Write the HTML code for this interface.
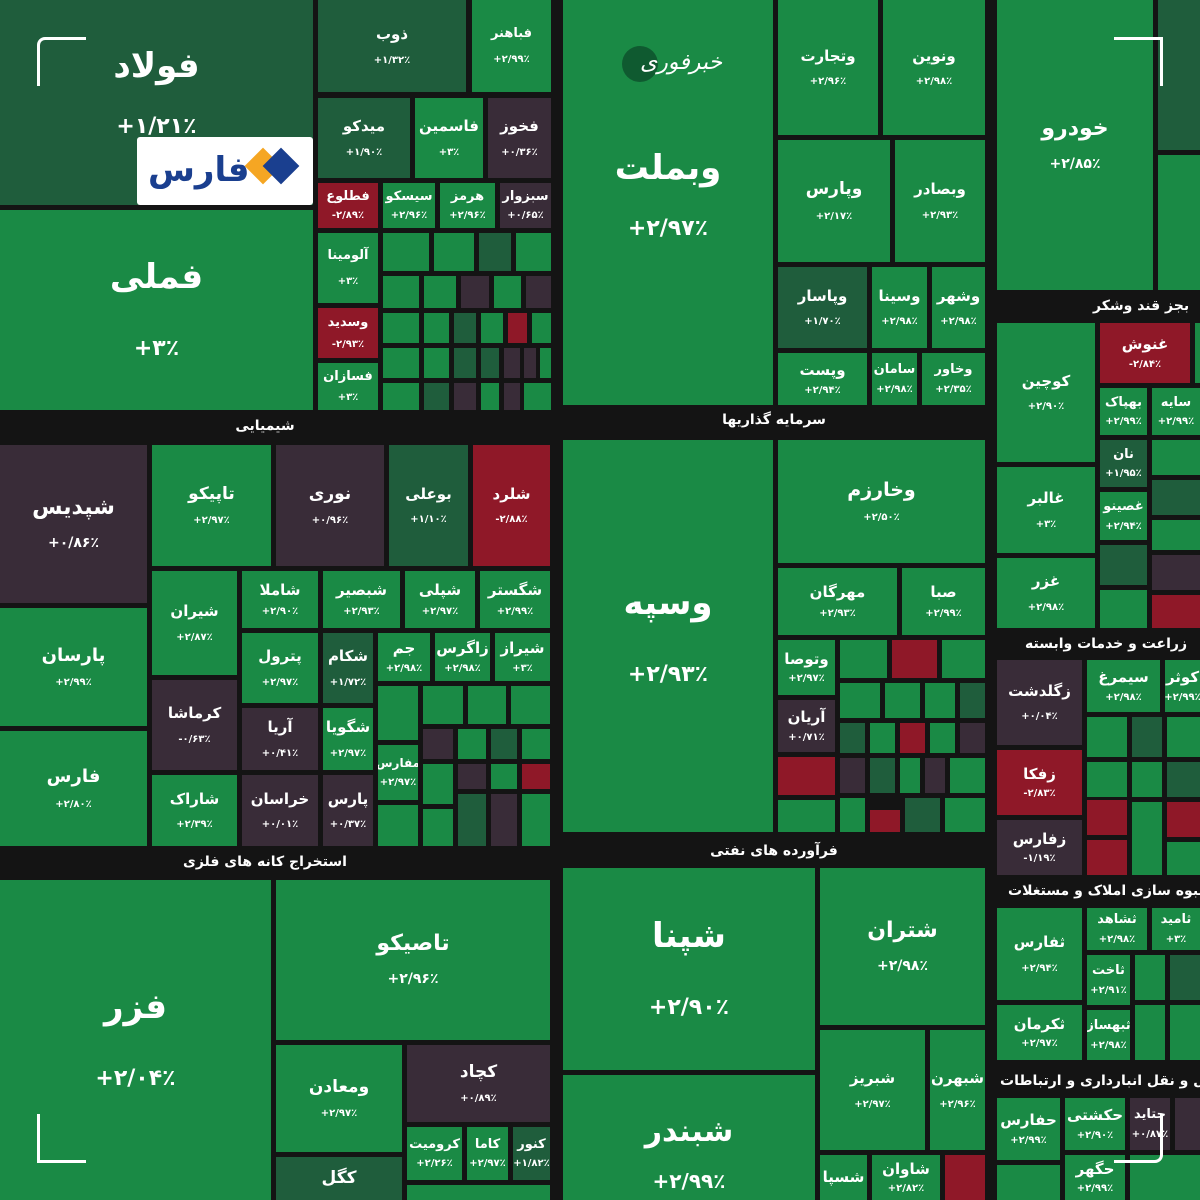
<!DOCTYPE html>
<html><head><meta charset="utf-8"><style>
body{margin:0;width:1200px;height:1200px;background:#141414;position:relative;overflow:hidden;font-family:"DejaVu Sans",sans-serif}
.b{position:absolute;display:flex;flex-direction:column;align-items:center;justify-content:center;color:#fff;font-weight:bold;font-size:15px;line-height:1.1;text-align:center;overflow:hidden;white-space:nowrap}
.b i{font-style:normal;font-size:10px;margin-top:12px}
.g{background:#1a8a45}.d{background:#1f5d3c}.p{background:#392c38}.r{background:#8f1828}
.h{position:absolute;color:#fff;font-weight:bold;font-size:14px;background:#141414;text-align:center;white-space:nowrap}
.hr{position:absolute;color:#fff;font-weight:bold;font-size:14px;white-space:nowrap;text-align:left;direction:ltr}
.L{font-size:34px}.L i{font-size:22px;margin-top:40px}
.M{font-size:22px}.M i{font-size:14px;margin-top:16px}
.c{position:absolute;border:3px solid #fff}
</style></head><body>
<!-- top-left -->
<div class="b d L" style="left:0;top:0;width:313px;height:205px;justify-content:flex-start;padding-top:48px;box-sizing:border-box">فولاد<i style="margin-top:30px">+۱/۲۱٪</i></div>
<div style="position:absolute;left:137px;top:137px;width:176px;height:68px;background:#fff;border-radius:3px"></div>
<div style="position:absolute;left:148px;top:150px;color:#1a3f8f;font-size:34px;font-weight:bold">فارس</div>
<div style="position:absolute;left:250px;top:153px;width:26px;height:26px;background:#f5a623;transform:rotate(45deg)"></div>
<div style="position:absolute;left:268px;top:153px;width:26px;height:26px;background:#1a3f8f;transform:rotate(45deg)"></div>
<div class="b g L" style="left:0;top:210px;width:313px;height:200px">فملی<i>+۳٪</i></div>
<div class="b d" style="left:318px;top:0;width:148px;height:92px">ذوب<i>+۱/۳۲٪</i></div>
<div class="b g" style="left:472px;top:0;width:79px;height:92px;font-size:13px">فباهنر<i>+۲/۹۹٪</i></div>
<div class="b d" style="left:318px;top:98px;width:92px;height:80px">میدکو<i>+۱/۹۰٪</i></div>
<div class="b g" style="left:415px;top:98px;width:68px;height:80px">فاسمین<i>+۳٪</i></div>
<div class="b p" style="left:488px;top:98px;width:63px;height:80px">فخوز<i>+۰/۳۶٪</i></div>
<div class="b r" style="left:318px;top:183px;width:60px;height:45px;font-size:13px">فطلوع<i style="margin-top:6px">-۲/۸۹٪</i></div>
<div class="b g" style="left:383px;top:183px;width:52px;height:45px;font-size:13px">سیسکو<i style="margin-top:6px">+۲/۹۶٪</i></div>
<div class="b g" style="left:440px;top:183px;width:55px;height:45px;font-size:13px">هرمز<i style="margin-top:6px">+۲/۹۶٪</i></div>
<div class="b p" style="left:500px;top:183px;width:51px;height:45px;font-size:13px">سبزوار<i style="margin-top:6px">+۰/۶۵٪</i></div>
<div class="b g" style="left:318px;top:233px;width:60px;height:70px;font-size:13px">آلومینا<i>+۳٪</i></div>
<div class="b r" style="left:318px;top:308px;width:60px;height:50px;font-size:13px">وسدید<i style="margin-top:8px">-۲/۹۳٪</i></div>
<div class="b g" style="left:318px;top:363px;width:60px;height:47px;font-size:13px">فسازان<i style="margin-top:8px">+۳٪</i></div>
<div class="b g" style="left:383px;top:233px;width:46px;height:38px"></div><div class="b g" style="left:434px;top:233px;width:40px;height:38px"></div><div class="b d" style="left:479px;top:233px;width:32px;height:38px"></div><div class="b g" style="left:516px;top:233px;width:35px;height:38px"></div>
<div class="b g" style="left:383px;top:276px;width:36px;height:32px"></div><div class="b g" style="left:424px;top:276px;width:32px;height:32px"></div><div class="b p" style="left:461px;top:276px;width:28px;height:32px"></div><div class="b g" style="left:494px;top:276px;width:27px;height:32px"></div><div class="b p" style="left:526px;top:276px;width:25px;height:32px"></div>
<div class="b g" style="left:383px;top:313px;width:36px;height:30px"></div><div class="b g" style="left:424px;top:313px;width:25px;height:30px"></div><div class="b d" style="left:454px;top:313px;width:22px;height:30px"></div><div class="b g" style="left:481px;top:313px;width:22px;height:30px"></div><div class="b r" style="left:508px;top:313px;width:19px;height:30px"></div><div class="b g" style="left:532px;top:313px;width:19px;height:30px"></div>
<div class="b g" style="left:383px;top:348px;width:36px;height:30px"></div><div class="b g" style="left:424px;top:348px;width:25px;height:30px"></div><div class="b d" style="left:454px;top:348px;width:22px;height:30px"></div><div class="b d" style="left:481px;top:348px;width:18px;height:30px"></div><div class="b p" style="left:504px;top:348px;width:16px;height:30px"></div><div class="b p" style="left:524px;top:348px;width:12px;height:30px"></div><div class="b g" style="left:540px;top:348px;width:11px;height:30px"></div>
<div class="b g" style="left:383px;top:383px;width:36px;height:27px"></div><div class="b d" style="left:424px;top:383px;width:25px;height:27px"></div><div class="b p" style="left:454px;top:383px;width:22px;height:27px"></div><div class="b g" style="left:481px;top:383px;width:18px;height:27px"></div><div class="b p" style="left:504px;top:383px;width:16px;height:27px"></div><div class="b g" style="left:524px;top:383px;width:27px;height:27px"></div>
<!-- chemical -->
<div class="h" style="left:0;top:418px;width:530px">شیمیایی</div>
<div class="b p M" style="left:0;top:445px;width:147px;height:158px">شپدیس<i>+۰/۸۶٪</i></div>
<div class="b g" style="left:0;top:608px;width:147px;height:118px;font-size:18px">پارسان<i>+۲/۹۹٪</i></div>
<div class="b g" style="left:0;top:731px;width:147px;height:115px;font-size:18px">فارس<i>+۲/۸۰٪</i></div>
<div class="b g" style="left:152px;top:445px;width:119px;height:121px;font-size:17px">تاپیکو<i>+۲/۹۷٪</i></div>
<div class="b p" style="left:276px;top:445px;width:108px;height:121px;font-size:17px">نوری<i>+۰/۹۶٪</i></div>
<div class="b d" style="left:389px;top:445px;width:79px;height:121px">بوعلی<i>+۱/۱۰٪</i></div>
<div class="b r" style="left:473px;top:445px;width:77px;height:121px">شلرد<i>-۲/۸۸٪</i></div>
<div class="b g" style="left:152px;top:571px;width:85px;height:104px">شیران<i>+۲/۸۷٪</i></div>
<div class="b p" style="left:152px;top:680px;width:85px;height:90px">کرماشا<i>-۰/۶۳٪</i></div>
<div class="b g" style="left:152px;top:775px;width:85px;height:71px">شاراک<i>+۲/۳۹٪</i></div>
<div class="b g" style="left:242px;top:571px;width:76px;height:57px">شاملا<i style="margin-top:8px">+۲/۹۰٪</i></div>
<div class="b g" style="left:242px;top:633px;width:76px;height:70px">پترول<i>+۲/۹۷٪</i></div>
<div class="b p" style="left:242px;top:708px;width:76px;height:62px">آریا<i>+۰/۴۱٪</i></div>
<div class="b p" style="left:242px;top:775px;width:76px;height:71px">خراسان<i>+۰/۰۱٪</i></div>
<div class="b g" style="left:323px;top:571px;width:77px;height:57px">شبصیر<i style="margin-top:8px">+۲/۹۳٪</i></div>
<div class="b g" style="left:405px;top:571px;width:70px;height:57px">شپلی<i style="margin-top:8px">+۲/۹۷٪</i></div>
<div class="b g" style="left:480px;top:571px;width:70px;height:57px">شگستر<i style="margin-top:8px">+۲/۹۹٪</i></div>
<div class="b d" style="left:323px;top:633px;width:50px;height:70px">شکام<i>+۱/۷۲٪</i></div>
<div class="b g" style="left:378px;top:633px;width:52px;height:48px">جم<i style="margin-top:6px">+۲/۹۸٪</i></div>
<div class="b g" style="left:435px;top:633px;width:55px;height:48px">زاگرس<i style="margin-top:6px">+۲/۹۸٪</i></div>
<div class="b g" style="left:495px;top:633px;width:55px;height:48px">شیراز<i style="margin-top:6px">+۳٪</i></div>
<div class="b g" style="left:323px;top:708px;width:50px;height:62px">شگویا<i>+۲/۹۷٪</i></div>
<div class="b p" style="left:323px;top:775px;width:50px;height:71px">پارس<i>+۰/۳۷٪</i></div>
<div class="b g" style="left:378px;top:686px;width:40px;height:54px"></div>
<div class="b g" style="left:378px;top:745px;width:40px;height:55px;font-size:12px">مفارس<i style="margin-top:6px">+۲/۹۷٪</i></div>
<div class="b g" style="left:378px;top:805px;width:40px;height:41px"></div>
<div class="b g" style="left:423px;top:686px;width:40px;height:38px"></div><div class="b g" style="left:468px;top:686px;width:38px;height:38px"></div><div class="b g" style="left:511px;top:686px;width:39px;height:38px"></div>
<div class="b p" style="left:423px;top:729px;width:30px;height:30px"></div><div class="b g" style="left:458px;top:729px;width:28px;height:30px"></div><div class="b d" style="left:491px;top:729px;width:26px;height:30px"></div><div class="b g" style="left:522px;top:729px;width:28px;height:30px"></div>
<div class="b g" style="left:423px;top:764px;width:30px;height:40px"></div><div class="b p" style="left:458px;top:764px;width:28px;height:25px"></div><div class="b g" style="left:491px;top:764px;width:26px;height:25px"></div><div class="b r" style="left:522px;top:764px;width:28px;height:25px"></div>
<div class="b g" style="left:423px;top:809px;width:30px;height:37px"></div><div class="b d" style="left:458px;top:794px;width:28px;height:52px"></div><div class="b p" style="left:491px;top:794px;width:26px;height:52px"></div><div class="b g" style="left:522px;top:794px;width:28px;height:52px"></div>
<!-- mining -->
<div class="h" style="left:0;top:854px;width:530px">استخراج کانه های فلزی</div>
<div class="b g L" style="left:0;top:880px;width:271px;height:320px">فزر<i>+۲/۰۴٪</i></div>
<div class="b g M" style="left:276px;top:880px;width:274px;height:160px">تاصیکو<i>+۲/۹۶٪</i></div>
<div class="b g" style="left:276px;top:1045px;width:126px;height:107px;font-size:17px">ومعادن<i>+۲/۹۷٪</i></div>
<div class="b p" style="left:407px;top:1045px;width:143px;height:77px;font-size:17px">کچاد<i>+۰/۸۹٪</i></div>
<div class="b g" style="left:407px;top:1127px;width:55px;height:53px;font-size:13px">کرومیت<i style="margin-top:6px">+۲/۲۶٪</i></div>
<div class="b g" style="left:467px;top:1127px;width:41px;height:53px;font-size:13px">کاما<i style="margin-top:6px">+۲/۹۷٪</i></div>
<div class="b d" style="left:513px;top:1127px;width:37px;height:53px;font-size:13px">کنور<i style="margin-top:6px">+۱/۸۲٪</i></div>
<div class="b d" style="left:276px;top:1157px;width:126px;height:43px;font-size:17px">کگل</div>
<div class="b g" style="left:407px;top:1185px;width:143px;height:15px"></div>
<!-- middle -->
<div class="b g L" style="left:563px;top:0;width:210px;height:405px;justify-content:flex-start;padding-top:150px;box-sizing:border-box">وبملت<i style="margin-top:30px">+۲/۹۷٪</i></div>
<div style="position:absolute;left:622px;top:46px;width:36px;height:36px;border-radius:50%;background:#0f5a30"></div>
<div style="position:absolute;left:640px;top:50px;color:#fff;font-size:22px;font-style:italic">خبرفوری</div>
<div class="b g" style="left:778px;top:0;width:100px;height:135px">وتجارت<i>+۲/۹۶٪</i></div>
<div class="b g" style="left:883px;top:0;width:102px;height:135px">ونوین<i>+۲/۹۸٪</i></div>
<div class="b g" style="left:778px;top:140px;width:112px;height:122px;font-size:17px">وپارس<i>+۲/۱۷٪</i></div>
<div class="b g" style="left:895px;top:140px;width:90px;height:122px">وبصادر<i>+۲/۹۳٪</i></div>
<div class="b d" style="left:778px;top:267px;width:89px;height:81px">وپاسار<i>+۱/۷۰٪</i></div>
<div class="b g" style="left:872px;top:267px;width:55px;height:81px">وسینا<i>+۲/۹۸٪</i></div>
<div class="b g" style="left:932px;top:267px;width:53px;height:81px">وشهر<i>+۲/۹۸٪</i></div>
<div class="b g" style="left:778px;top:353px;width:89px;height:52px">وپست<i style="margin-top:6px">+۲/۹۴٪</i></div>
<div class="b g" style="left:872px;top:353px;width:45px;height:52px;font-size:13px">سامان<i style="margin-top:6px">+۲/۹۸٪</i></div>
<div class="b g" style="left:922px;top:353px;width:63px;height:52px;font-size:13px">وخاور<i style="margin-top:6px">+۲/۳۵٪</i></div>
<div class="h" style="left:563px;top:412px;width:422px">سرمایه گذاریها</div>
<div class="b g L" style="left:563px;top:440px;width:210px;height:392px">وسپه<i>+۲/۹۳٪</i></div>
<div class="b g" style="left:778px;top:440px;width:207px;height:123px;font-size:19px">وخارزم<i>+۲/۵۰٪</i></div>
<div class="b g" style="left:778px;top:568px;width:119px;height:67px">مهرگان<i style="margin-top:8px">+۲/۹۳٪</i></div>
<div class="b g" style="left:902px;top:568px;width:83px;height:67px">صبا<i style="margin-top:8px">+۲/۹۹٪</i></div>
<div class="b g" style="left:778px;top:640px;width:57px;height:55px">وتوصا<i style="margin-top:6px">+۲/۹۷٪</i></div>
<div class="b p" style="left:778px;top:700px;width:57px;height:52px">آریان<i style="margin-top:6px">+۰/۷۱٪</i></div>
<div class="b r" style="left:778px;top:757px;width:57px;height:38px"></div>
<div class="b g" style="left:778px;top:800px;width:57px;height:32px"></div>
<div class="b g" style="left:840px;top:640px;width:47px;height:38px"></div><div class="b r" style="left:892px;top:640px;width:45px;height:38px"></div><div class="b g" style="left:942px;top:640px;width:43px;height:38px"></div>
<div class="b g" style="left:840px;top:683px;width:40px;height:35px"></div><div class="b g" style="left:885px;top:683px;width:35px;height:35px"></div><div class="b g" style="left:925px;top:683px;width:30px;height:35px"></div><div class="b d" style="left:960px;top:683px;width:25px;height:35px"></div>
<div class="b d" style="left:840px;top:723px;width:25px;height:30px"></div><div class="b g" style="left:870px;top:723px;width:25px;height:30px"></div><div class="b r" style="left:900px;top:723px;width:25px;height:30px"></div><div class="b g" style="left:930px;top:723px;width:25px;height:30px"></div><div class="b p" style="left:960px;top:723px;width:25px;height:30px"></div>
<div class="b p" style="left:840px;top:758px;width:25px;height:35px"></div><div class="b d" style="left:870px;top:758px;width:25px;height:35px"></div><div class="b g" style="left:900px;top:758px;width:20px;height:35px"></div><div class="b p" style="left:925px;top:758px;width:20px;height:35px"></div><div class="b g" style="left:950px;top:758px;width:35px;height:35px"></div>
<div class="b g" style="left:840px;top:798px;width:25px;height:34px"></div><div class="b r" style="left:870px;top:810px;width:30px;height:22px"></div><div class="b d" style="left:905px;top:798px;width:35px;height:34px"></div><div class="b g" style="left:945px;top:798px;width:40px;height:34px"></div>
<div class="h" style="left:563px;top:843px;width:422px">فرآورده های نفتی</div>
<div class="b g L" style="left:563px;top:868px;width:252px;height:202px">شپنا<i>+۲/۹۰٪</i></div>
<div class="b g L" style="left:563px;top:1075px;width:252px;height:125px;justify-content:flex-start;padding-top:40px;box-sizing:border-box;font-size:30px">شبندر<i style="margin-top:22px;font-size:20px">+۲/۹۹٪</i></div>
<div class="b g M" style="left:820px;top:868px;width:165px;height:157px">شتران<i>+۲/۹۸٪</i></div>
<div class="b g" style="left:820px;top:1030px;width:105px;height:120px">شبریز<i>+۲/۹۷٪</i></div>
<div class="b g" style="left:930px;top:1030px;width:55px;height:120px">شبهرن<i>+۲/۹۶٪</i></div>
<div class="b g" style="left:820px;top:1155px;width:47px;height:45px">شسپا</div>
<div class="b g" style="left:872px;top:1155px;width:68px;height:45px">شاوان<i style="margin-top:6px">+۲/۸۲٪</i></div>
<div class="b r" style="left:945px;top:1155px;width:40px;height:45px"></div>
<!-- right -->
<div class="b g M" style="left:997px;top:0;width:156px;height:290px">خودرو<i>+۲/۸۵٪</i></div>
<div class="b d" style="left:1158px;top:0;width:42px;height:150px"></div>
<div class="b g" style="left:1158px;top:155px;width:42px;height:135px"></div>
<div class="hr" style="left:1093px;top:298px"><span dir="rtl">بجز قند وشکر</span></div>
<div class="b g" style="left:997px;top:323px;width:98px;height:139px">کوچین<i>+۲/۹۰٪</i></div>
<div class="b r" style="left:1100px;top:323px;width:90px;height:60px">غنوش<i style="margin-top:6px">-۲/۸۴٪</i></div>
<div class="b g" style="left:1195px;top:323px;width:5px;height:60px"></div>
<div class="b g" style="left:1100px;top:388px;width:47px;height:47px;font-size:13px">بهپاک<i style="margin-top:6px">+۲/۹۹٪</i></div>
<div class="b g" style="left:1152px;top:388px;width:48px;height:47px;font-size:13px">سایه<i style="margin-top:6px">+۲/۹۹٪</i></div>
<div class="b g" style="left:997px;top:467px;width:98px;height:86px">غالبر<i>+۳٪</i></div>
<div class="b g" style="left:997px;top:558px;width:98px;height:70px">غزر<i>+۲/۹۸٪</i></div>
<div class="b d" style="left:1100px;top:440px;width:47px;height:47px;font-size:13px">نان<i style="margin-top:6px">+۱/۹۵٪</i></div>
<div class="b g" style="left:1100px;top:492px;width:47px;height:48px;font-size:13px">غصینو<i style="margin-top:6px">+۲/۹۴٪</i></div>
<div class="b g" style="left:1152px;top:440px;width:48px;height:35px"></div><div class="b d" style="left:1152px;top:480px;width:48px;height:35px"></div><div class="b g" style="left:1152px;top:520px;width:48px;height:30px"></div>
<div class="b d" style="left:1100px;top:545px;width:47px;height:40px"></div><div class="b p" style="left:1152px;top:555px;width:48px;height:35px"></div><div class="b g" style="left:1100px;top:590px;width:47px;height:38px"></div><div class="b r" style="left:1152px;top:595px;width:48px;height:33px"></div>
<div class="hr" style="left:1025px;top:636px"><span dir="rtl">زراعت و خدمات وابسته</span></div>
<div class="b p" style="left:997px;top:660px;width:85px;height:85px">زگلدشت<i>+۰/۰۴٪</i></div>
<div class="b g" style="left:1087px;top:660px;width:73px;height:52px">سیمرغ<i style="margin-top:6px">+۲/۹۸٪</i></div>
<div class="b g" style="left:1165px;top:660px;width:35px;height:52px">کوثر<i style="margin-top:6px">+۲/۹۹٪</i></div>
<div class="b r" style="left:997px;top:750px;width:85px;height:65px">زفکا<i style="margin-top:6px">-۲/۸۳٪</i></div>
<div class="b p" style="left:997px;top:820px;width:85px;height:55px">زفارس<i style="margin-top:6px">-۱/۱۹٪</i></div>
<div class="b g" style="left:1087px;top:717px;width:40px;height:40px"></div><div class="b d" style="left:1132px;top:717px;width:30px;height:40px"></div><div class="b g" style="left:1167px;top:717px;width:33px;height:40px"></div>
<div class="b g" style="left:1087px;top:762px;width:40px;height:35px"></div><div class="b r" style="left:1087px;top:800px;width:40px;height:35px"></div><div class="b g" style="left:1132px;top:762px;width:30px;height:35px"></div><div class="b d" style="left:1167px;top:762px;width:33px;height:35px"></div>
<div class="b r" style="left:1087px;top:840px;width:40px;height:35px"></div><div class="b g" style="left:1132px;top:802px;width:30px;height:73px"></div><div class="b r" style="left:1167px;top:802px;width:33px;height:35px"></div><div class="b g" style="left:1167px;top:842px;width:33px;height:33px"></div>
<div class="hr" style="left:1008px;top:883px"><span dir="rtl">انبوه سازی املاک و مستغلات</span></div>
<div class="b g" style="left:997px;top:908px;width:85px;height:92px">ثفارس<i>+۲/۹۴٪</i></div>
<div class="b g" style="left:1087px;top:908px;width:60px;height:42px;font-size:13px">ثشاهد<i style="margin-top:6px">+۲/۹۸٪</i></div>
<div class="b g" style="left:1152px;top:908px;width:48px;height:42px;font-size:13px">ثامید<i style="margin-top:6px">+۳٪</i></div>
<div class="b g" style="left:1087px;top:955px;width:43px;height:50px;font-size:13px">ثاخت<i style="margin-top:6px">+۲/۹۱٪</i></div>
<div class="b g" style="left:997px;top:1005px;width:85px;height:55px">ثکرمان<i style="margin-top:6px">+۲/۹۷٪</i></div>
<div class="b g" style="left:1087px;top:1010px;width:43px;height:50px;font-size:13px">ثبهساز<i style="margin-top:6px">+۲/۹۸٪</i></div>
<div class="b g" style="left:1135px;top:955px;width:30px;height:45px"></div><div class="b d" style="left:1170px;top:955px;width:30px;height:45px"></div><div class="b g" style="left:1135px;top:1005px;width:30px;height:55px"></div><div class="b g" style="left:1170px;top:1005px;width:30px;height:55px"></div>
<div class="hr" style="left:1000px;top:1073px"><span dir="rtl">حمل و نقل انبارداری و ارتباطات</span></div>
<div class="b g" style="left:997px;top:1098px;width:63px;height:62px">حفارس<i style="margin-top:6px">+۲/۹۹٪</i></div>
<div class="b g" style="left:1065px;top:1098px;width:60px;height:52px">حکشتی<i style="margin-top:6px">+۲/۹۰٪</i></div>
<div class="b p" style="left:1130px;top:1098px;width:40px;height:52px;font-size:13px">حتاید<i style="margin-top:6px">+۰/۸۷٪</i></div>
<div class="b p" style="left:1175px;top:1098px;width:25px;height:52px"></div>
<div class="b g" style="left:1065px;top:1155px;width:60px;height:45px">حگهر<i style="margin-top:6px">+۲/۹۹٪</i></div>
<div class="b g" style="left:997px;top:1165px;width:63px;height:35px"></div>
<div class="b g" style="left:1130px;top:1155px;width:70px;height:45px"></div>
<!-- corners -->
<div class="c" style="left:37px;top:37px;width:46px;height:46px;border-right:none;border-bottom:none;border-top-left-radius:8px"></div>
<div class="c" style="left:1114px;top:37px;width:46px;height:46px;border-left:none;border-bottom:none"></div>
<div class="c" style="left:37px;top:1114px;width:46px;height:46px;border-right:none;border-top:none"></div>
<div class="c" style="left:1114px;top:1114px;width:46px;height:46px;border-left:none;border-top:none;border-bottom-right-radius:8px"></div>
</body></html>
